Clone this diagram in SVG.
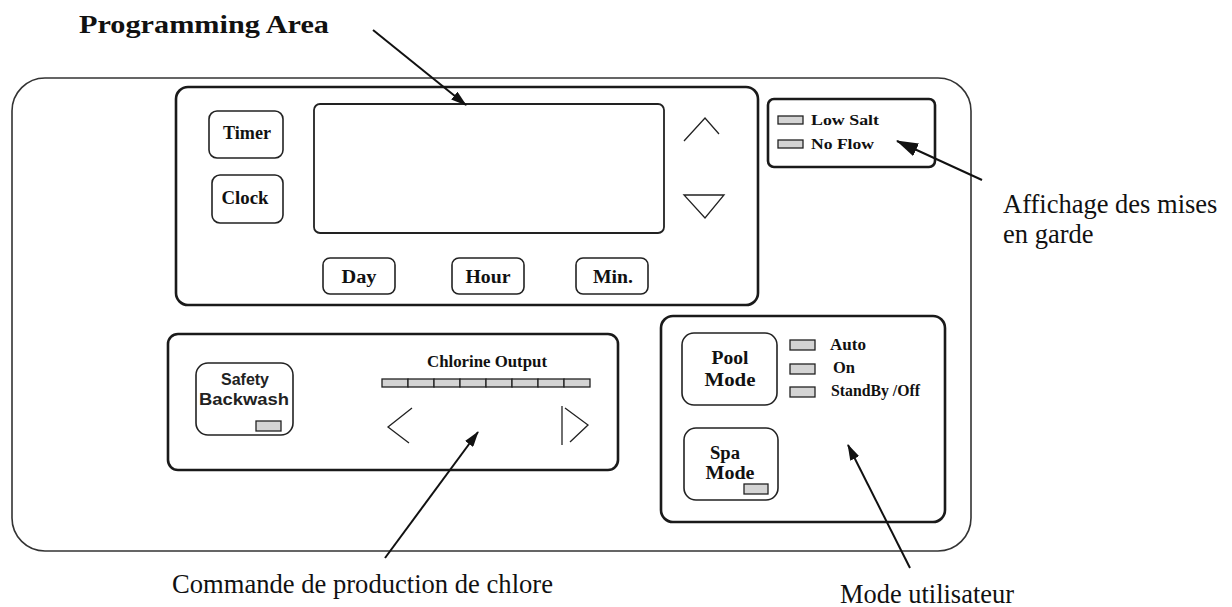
<svg xmlns="http://www.w3.org/2000/svg" width="1232" height="607" viewBox="0 0 1232 607">
<style>
.outer{fill:none;stroke:#333;stroke-width:1.6}
.panel{fill:none;stroke:#1a1a1a;stroke-width:2.6}
.btn{fill:none;stroke:#222;stroke-width:1.6}
.disp{fill:none;stroke:#222;stroke-width:1.8}
.led{fill:#d4d4d4;stroke:#222;stroke-width:1.3}
.thin{fill:none;stroke:#222;stroke-width:1.3}
.lbl{font-family:"Liberation Serif",serif;font-weight:bold;fill:#111}
.sans{font-family:"Liberation Sans",Arial,sans-serif;font-weight:bold;fill:#222}
.cap{font-family:"Liberation Serif","Times New Roman",serif;fill:#111;font-size:26.5px}
.conn{stroke:#111;stroke-width:2;fill:none}
</style>
<defs>
<marker id="ah" viewBox="0 0 16 10" refX="15" refY="5" markerWidth="16" markerHeight="10" markerUnits="userSpaceOnUse" orient="auto">
<path d="M0,0 L16,5 L0,10 Z" fill="#111"/>
</marker>
<marker id="ahL" viewBox="0 0 22 14" refX="21" refY="7" markerWidth="22" markerHeight="14" markerUnits="userSpaceOnUse" orient="auto">
<path d="M0,0 L22,7 L0,14 Z" fill="#111"/>
</marker>
</defs>

<g id="outer-frame">
<rect class="outer" x="12" y="78" width="959" height="473" rx="33" ry="33"/>
</g>

<g id="title">
<text class="lbl" x="79" y="33" font-size="25" textLength="250" lengthAdjust="spacingAndGlyphs">Programming Area</text>
</g>

<g id="programming-panel">
<rect class="panel" x="176" y="87" width="582" height="218" rx="12"/>
<rect class="disp" x="314" y="104" width="350" height="129" rx="6"/>
<g id="btn-timer">
<rect class="btn" x="209" y="111" width="74" height="47" rx="8"/>
<text class="lbl" x="247" y="139" font-size="18" text-anchor="middle" textLength="48" lengthAdjust="spacingAndGlyphs">Timer</text>
</g>
<g id="btn-clock">
<rect class="btn" x="212" y="175" width="71" height="48" rx="8"/>
<text class="lbl" x="245" y="204" font-size="18" text-anchor="middle" textLength="47" lengthAdjust="spacingAndGlyphs">Clock</text>
</g>
<g id="btn-day">
<rect class="btn" x="323" y="258" width="72" height="36" rx="7"/>
<text class="lbl" x="359" y="283" font-size="18" text-anchor="middle" textLength="35" lengthAdjust="spacingAndGlyphs">Day</text>
</g>
<g id="btn-hour">
<rect class="btn" x="452" y="258" width="72" height="36" rx="7"/>
<text class="lbl" x="488" y="283" font-size="18" text-anchor="middle" textLength="45" lengthAdjust="spacingAndGlyphs">Hour</text>
</g>
<g id="btn-min">
<rect class="btn" x="576" y="258" width="72" height="36" rx="7"/>
<text class="lbl" x="613" y="283" font-size="18" text-anchor="middle" textLength="40" lengthAdjust="spacingAndGlyphs">Min.</text>
</g>
<polyline class="thin" points="684,141 705,118 719,134"/>
<polygon class="thin" points="684,195 724,195 705,218"/>
</g>

<g id="warning-panel">
<rect class="panel" x="768" y="99" width="167" height="68" rx="6"/>
<rect class="led" x="778" y="116" width="25" height="8"/>
<rect class="led" x="778" y="140" width="25" height="8"/>
<text class="lbl" x="811" y="125" font-size="15" textLength="68" lengthAdjust="spacingAndGlyphs">Low Salt</text>
<text class="lbl" x="811" y="149" font-size="15" textLength="63" lengthAdjust="spacingAndGlyphs">No Flow</text>
</g>

<g id="chlorine-panel">
<rect class="panel" x="168" y="334" width="450" height="136" rx="10"/>
<g id="btn-safety">
<rect class="btn" x="196" y="363" width="97" height="72" rx="12"/>
<text class="sans" x="245" y="385" font-size="16" text-anchor="middle">Safety</text>
<text class="sans" x="244" y="405" font-size="16" text-anchor="middle" textLength="90" lengthAdjust="spacingAndGlyphs">Backwash</text>
<rect class="led" x="256" y="421" width="25" height="10"/>
</g>
<text class="lbl" x="487" y="367" font-size="16" text-anchor="middle" textLength="120" lengthAdjust="spacingAndGlyphs">Chlorine Output</text>
<g id="chlorine-bar">
<rect class="led" x="382" y="379" width="26" height="8"/>
<rect class="led" x="408" y="379" width="26" height="8"/>
<rect class="led" x="434" y="379" width="26" height="8"/>
<rect class="led" x="460" y="379" width="26" height="8"/>
<rect class="led" x="486" y="379" width="26" height="8"/>
<rect class="led" x="512" y="379" width="26" height="8"/>
<rect class="led" x="538" y="379" width="26" height="8"/>
<rect class="led" x="564" y="379" width="26" height="8"/>
</g>
<polyline class="thin" points="412,408 388,427 409,443"/>
<line class="thin" x1="562" y1="406" x2="562" y2="445"/>
<polyline class="thin" points="565,408 588,425 570,442"/>
</g>

<g id="mode-panel">
<rect class="panel" x="661" y="316" width="284" height="206" rx="12"/>
<g id="btn-pool">
<rect class="btn" x="682" y="333" width="95" height="72" rx="12"/>
<text class="lbl" x="730" y="364" font-size="18" text-anchor="middle" textLength="37" lengthAdjust="spacingAndGlyphs">Pool</text>
<text class="lbl" x="730" y="386" font-size="18" text-anchor="middle" textLength="51" lengthAdjust="spacingAndGlyphs">Mode</text>
</g>
<g id="btn-spa">
<rect class="btn" x="684" y="428" width="94" height="72" rx="12"/>
<text class="lbl" x="725" y="459" font-size="18" text-anchor="middle" textLength="30" lengthAdjust="spacingAndGlyphs">Spa</text>
<text class="lbl" x="730" y="479" font-size="18" text-anchor="middle" textLength="49" lengthAdjust="spacingAndGlyphs">Mode</text>
<rect class="led" x="744" y="484" width="24" height="10"/>
</g>
<rect class="led" x="790" y="340" width="25" height="10"/>
<rect class="led" x="790" y="364" width="25" height="10"/>
<rect class="led" x="790" y="387" width="25" height="10"/>
<text class="lbl" x="830" y="350" font-size="16" textLength="36" lengthAdjust="spacingAndGlyphs">Auto</text>
<text class="lbl" x="833" y="373" font-size="16" textLength="22" lengthAdjust="spacingAndGlyphs">On</text>
<text class="lbl" x="831" y="396" font-size="16" textLength="89" lengthAdjust="spacingAndGlyphs">StandBy /Off</text>
</g>

<g id="connectors">
<line class="conn" x1="373" y1="30" x2="466" y2="105" marker-end="url(#ah)"/>
<line class="conn" x1="982" y1="180" x2="897" y2="141" marker-end="url(#ahL)"/>
<line class="conn" x1="385" y1="558" x2="478" y2="432" marker-end="url(#ah)"/>
<line class="conn" x1="910" y1="568" x2="848" y2="445" marker-end="url(#ah)"/>
</g>

<g id="captions">
<text class="cap" x="1003" y="213">Affichage des mises</text>
<text class="cap" x="1003" y="243">en garde</text>
<text class="cap" x="172" y="593" textLength="381" lengthAdjust="spacingAndGlyphs">Commande de production de chlore</text>
<text class="cap" x="840" y="603" textLength="174" lengthAdjust="spacingAndGlyphs">Mode utilisateur</text>
</g>
</svg>
